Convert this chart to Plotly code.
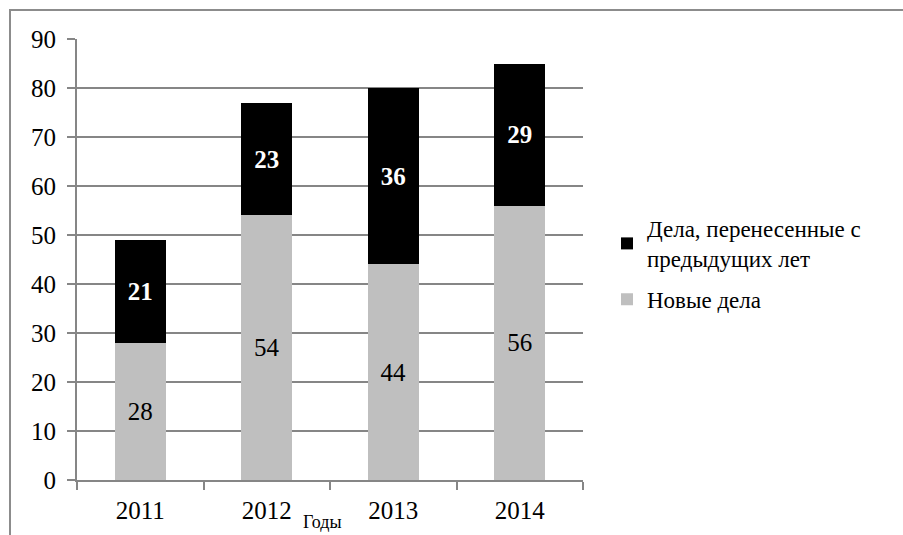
import plotly.graph_objects as go

years = ["2011", "2012", "2013", "2014"]
new_cases = [28, 54, 44, 56]
carried_cases = [21, 23, 36, 29]
name_new = "Новые дела"
name_carried = "Дела, перенесенные с<br>предыдущих лет"
x_title = "Годы"

FONT = "Liberation Serif"
GRID = "#868686"

fig = go.Figure()
fig.add_trace(go.Bar(
    x=years, y=new_cases, name=name_new, legendgroup="new", legendrank=2,
    marker=dict(color="#bfbfbf", line=dict(width=0)),
    text=[str(v) for v in new_cases], textposition="inside",
    insidetextanchor="middle",
    textfont=dict(family=FONT, size=25, color="#000000"),
))
fig.add_trace(go.Bar(
    x=years, y=carried_cases, name=name_carried, legendgroup="carried", legendrank=1,
    marker=dict(color="#000000", line=dict(width=0)),
    text=["<b>%d</b>" % v for v in carried_cases], textposition="inside",
    insidetextanchor="middle",
    textfont=dict(family=FONT, size=25, color="#ffffff"),
))

L, R, T, B = 77, 320, 39, 55
W, H = 903, 535
pw, ph = W - L - R, H - T - B

fig.update_layout(
    width=W, height=H,
    margin=dict(l=L, r=R, t=T, b=B),
    barmode="stack", bargap=0.6,
    paper_bgcolor="white", plot_bgcolor="white",
    font=dict(family=FONT, size=24, color="#000000"),
    showlegend=True,
    legend=dict(
        x=(607 - L) / pw, xanchor="left",
        y=1 - (207 - T) / ph, yanchor="top",
        traceorder="grouped",
        font=dict(family=FONT, size=23, color="#000000"),
        tracegroupgap=8, itemwidth=30,
        bgcolor="rgba(0,0,0,0)",
    ),
    xaxis=dict(
        type="category", showgrid=False,
        showline=True, linecolor=GRID, linewidth=2,
        ticks="outside", tickson="boundaries", ticklen=8, tickcolor=GRID, tickwidth=2,
        tickfont=dict(family=FONT, size=25), ticklabelstandoff=7,
    ),
    yaxis=dict(
        range=[0, 90], dtick=10, showgrid=True, gridcolor=GRID, gridwidth=2,
        showline=True, linecolor=GRID, linewidth=2,
        ticks="outside", ticklen=8, tickcolor=GRID, tickwidth=2,
        tickfont=dict(family=FONT, size=25), ticklabelstandoff=6,
        zeroline=False,
    ),
    shapes=[dict(
        type="rect", xref="paper", yref="paper",
        x0=(10 - L) / pw, x1=(W + 10 - L) / pw,
        y0=-(H + 10 - T - ph) / ph, y1=1 + (T - 10) / ph,
        line=dict(color="#8c8c8c", width=2), fillcolor="rgba(0,0,0,0)",
        layer="below",
    )],
    annotations=[dict(
        text=x_title, xref="paper", yref="paper",
        x=(322 - L) / pw, y=-(522 - (T + ph)) / ph,
        xanchor="center", yanchor="middle", showarrow=False,
        font=dict(family=FONT, size=18, color="#000000"),
        borderpad=0,
    )],
)

fig.write_html("out.html")
